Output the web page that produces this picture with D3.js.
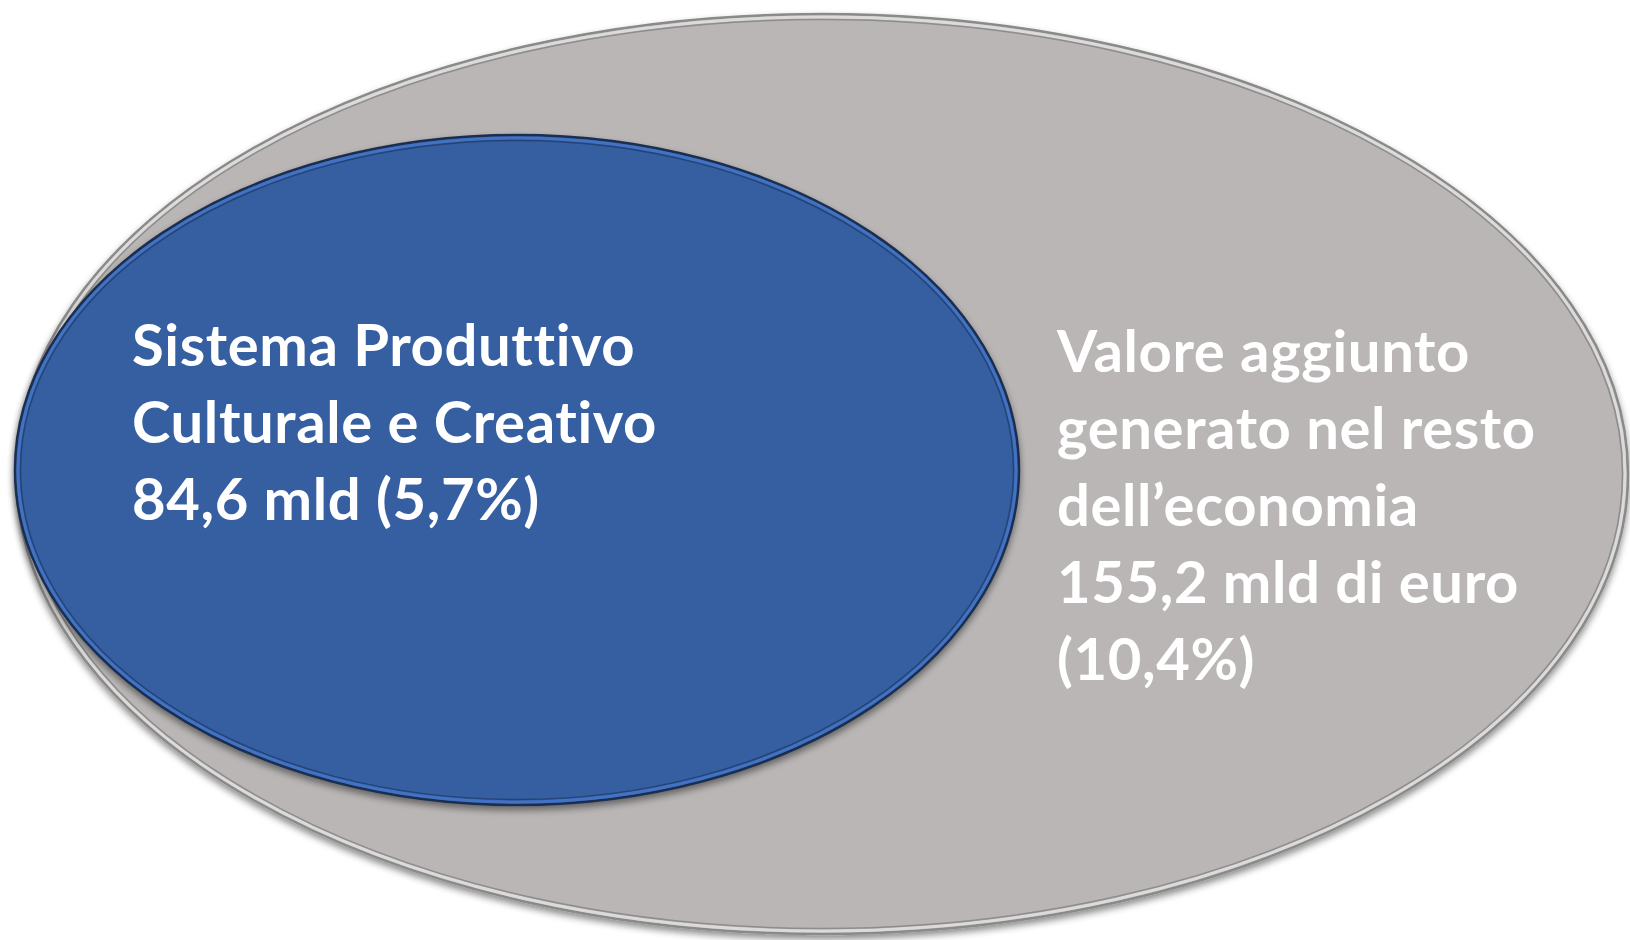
<!DOCTYPE html>
<html>
<head>
<meta charset="utf-8">
<script src="https://cdn.jsdelivr.net/npm/d3@7"></script>
<style>
  body { margin: 0; background: #fff; }
  svg { display: block; }
  .label {
    font-family: Lato, "Open Sans", sans-serif;
    font-weight: 700;
    fill: #fff;
    font-variant-ligatures: none;
    font-feature-settings: "liga" 0, "clig" 0;
  }
</style>
</head>
<body>
<svg id="chart"></svg>
<script>
// data
const sectors = ["Sistema Produttivo Culturale e Creativo", "Valore aggiunto generato nel resto dell’economia"];
const values = [84.6, 155.2]; // mld di euro
const shares = [5.7, 10.4]; // % of total
const labelLines = [
  ["Sistema Produttivo", "Culturale e Creativo"],
  ["Valore aggiunto", "generato nel resto", "dell’economia"],
];

const width = 1630;
const height = 940;

const it = d3.formatLocale({ decimal: ",", thousands: ".", grouping: [3], currency: ["€", ""] });
const fmt = it.format(".1f");

const svg = d3.select("#chart").attr("width", width).attr("height", height);

// shadow filter
const defs = svg.append("defs");
const shadow = defs.append("filter").attr("id", "shadow")
  .attr("x", "-10%").attr("y", "-10%").attr("width", "120%").attr("height", "120%");
shadow.append("feDropShadow")
  .attr("dx", 0).attr("dy", 4).attr("stdDeviation", 3.5)
  .attr("flood-color", "#000").attr("flood-opacity", 0.45);

// layout of the two ellipses (outer = rest of economy, inner = SPCC)
const shapes = [
  { cx: 517, cy: 470, rx: 502, ry: 335, fill: "#365ea0", edge: "#4272c4", line: "#22406e", outline: "#1c2f50" },
  { cx: 822, cy: 474, rx: 806, ry: 460, fill: "#b9b6b5", edge: "#dcdbda", line: "#868686", outline: "#8a8a8a" },
];

// draw outer first
const drawOrder = [1, 0];
drawOrder.forEach(function (i) {
  const s = shapes[i];
  const g = svg.append("g").attr("class", "shape");
  g.append("ellipse")
    .attr("cx", s.cx).attr("cy", s.cy).attr("rx", s.rx).attr("ry", s.ry)
    .attr("fill", s.fill)
    .attr("stroke", s.outline)
    .attr("stroke-width", 2.5)
    .attr("filter", "url(#shadow)");
  // bevel: light band
  g.append("ellipse")
    .attr("cx", s.cx).attr("cy", s.cy).attr("rx", s.rx - 3).attr("ry", s.ry - 3)
    .attr("fill", "none")
    .attr("stroke", s.edge)
    .attr("stroke-width", 3);
  // bevel: inner dark line
  g.append("ellipse")
    .attr("cx", s.cx).attr("cy", s.cy).attr("rx", s.rx - 5.5).attr("ry", s.ry - 5.5)
    .attr("fill", "none")
    .attr("stroke", s.line)
    .attr("stroke-width", 1.5)
    .attr("opacity", 0.85);
});

// text blocks
const textPos = [
  { x: 132, y: 366 },
  { x: 1057, y: 372 },
];
const lineStep = 77;

const blocks = [
  labelLines[0].concat([fmt(values[0]) + " mld (" + fmt(shares[0]) + "%)"]),
  labelLines[1].concat([fmt(values[1]) + " mld di euro", "(" + fmt(shares[1]) + "%)"]),
];

blocks.forEach(function (lines, i) {
  const t = svg.append("text")
    .attr("class", "label")
    .attr("x", textPos[i].x)
    .attr("y", textPos[i].y)
    .style("font-size", "58px")
    .style("letter-spacing", "0.6px");
  t.selectAll("tspan")
    .data(lines)
    .enter()
    .append("tspan")
    .attr("x", textPos[i].x)
    .attr("y", function (d, j) { return textPos[i].y + j * lineStep; })
    .text(function (d) { return d; });
});
</script>
</body>
</html>
